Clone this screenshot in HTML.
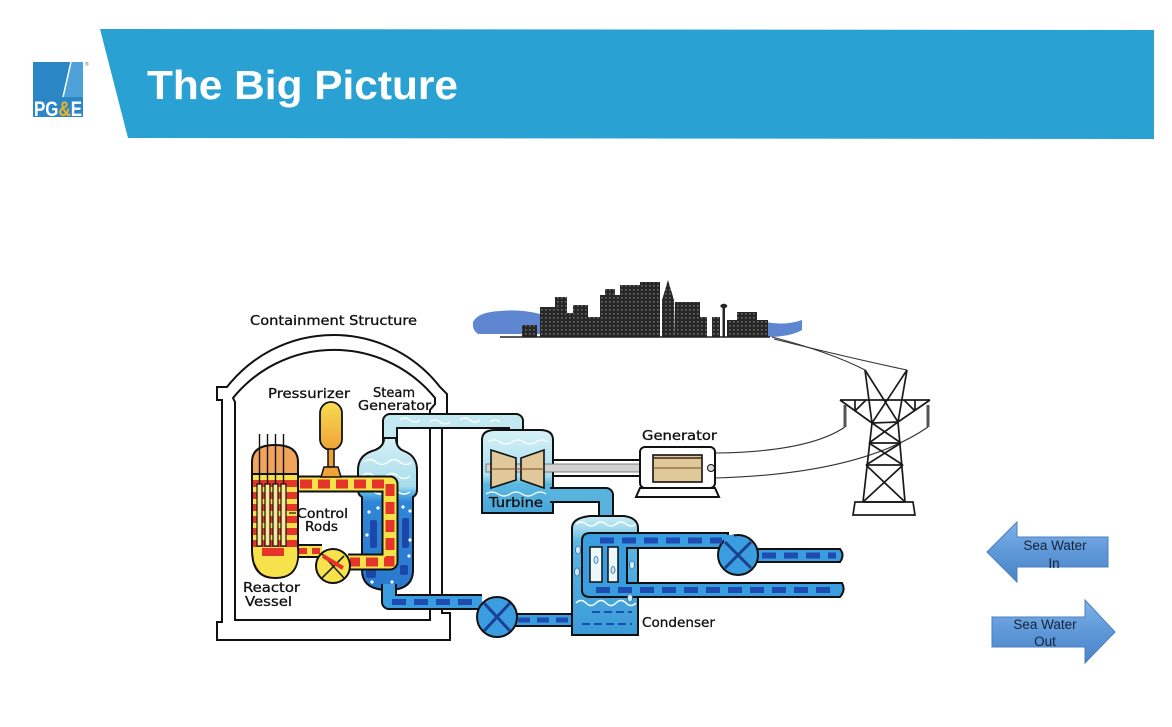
<!DOCTYPE html>
<html><head><meta charset="utf-8">
<style>
html,body{margin:0;padding:0;background:#fff;}
body{width:1172px;height:727px;overflow:hidden;position:relative;}
svg{position:absolute;left:0;top:0;}
.lbl{font-family:"DejaVu Sans","Liberation Sans",sans-serif;font-size:13px;fill:#111;stroke:#111;stroke-width:0.3;}
.sw{font-family:"Liberation Sans",sans-serif;font-size:13.5px;fill:#15233a;}
</style></head>
<body>
<svg width="1172" height="727" viewBox="0 0 1172 727" xmlns="http://www.w3.org/2000/svg">
<defs>
<pattern id="win" width="4" height="4" patternUnits="userSpaceOnUse">
<rect width="4" height="4" fill="#262626"/><rect x="1" y="1" width="1.6" height="1.6" fill="#6a6a6a"/>
</pattern>
<pattern id="core" width="10" height="12" patternUnits="userSpaceOnUse">
<rect width="10" height="12" fill="#f6e24a"/><rect x="0" y="0" width="10" height="7" fill="#e5352b"/>
</pattern>
<linearGradient id="sgfill" x1="0" y1="438" x2="0" y2="590" gradientUnits="userSpaceOnUse">
<stop offset="0" stop-color="#d6f1f6"/><stop offset="0.32" stop-color="#a6dcec"/>
<stop offset="0.36" stop-color="#5ab8e6"/><stop offset="0.42" stop-color="#2f86d6"/><stop offset="1" stop-color="#2a78cf"/>
</linearGradient>
<linearGradient id="turb" x1="0" y1="430" x2="0" y2="513" gradientUnits="userSpaceOnUse">
<stop offset="0" stop-color="#d6f1f6"/><stop offset="0.55" stop-color="#a9dff0"/>
<stop offset="0.65" stop-color="#5bb8e0"/><stop offset="1" stop-color="#48a6da"/>
</linearGradient>
<linearGradient id="cond" x1="0" y1="515" x2="0" y2="635" gradientUnits="userSpaceOnUse">
<stop offset="0" stop-color="#cdeef6"/><stop offset="0.12" stop-color="#9fd8ee"/>
<stop offset="0.22" stop-color="#5cb8e2"/><stop offset="1" stop-color="#3a9ad8"/>
</linearGradient>
<linearGradient id="prz" x1="0" y1="402" x2="0" y2="450" gradientUnits="userSpaceOnUse">
<stop offset="0" stop-color="#f8dc50"/><stop offset="1" stop-color="#eea238"/>
</linearGradient>
<linearGradient id="arr" x1="0" y1="0" x2="0" y2="1">
<stop offset="0" stop-color="#7eb3ea"/><stop offset="0.5" stop-color="#5f98d8"/><stop offset="1" stop-color="#4a84c8"/>
</linearGradient>
</defs>

<!-- Banner -->
<polygon points="100,29 1154,30 1154,139 128,138" fill="#29a2d3"/>
<text x="147" y="99" font-family="Liberation Sans, Arial, sans-serif" font-weight="bold" font-size="41" fill="#fff" textLength="311" lengthAdjust="spacingAndGlyphs">The Big Picture</text>

<!-- Logo -->
<rect x="33" y="62" width="50" height="55" fill="#2b86c6"/>
<polygon points="71,62 83,62 83,97 63,97" fill="#4ea2d8"/>
<line x1="71" y1="62" x2="63" y2="97" stroke="#fff" stroke-width="1.5"/>
<text x="34" y="116" font-family="Liberation Sans Narrow, Liberation Sans, sans-serif" font-weight="bold" font-size="21" fill="#fff" textLength="48" lengthAdjust="spacingAndGlyphs">PG<tspan fill="#f2b320">&amp;</tspan>E</text>
<text x="85" y="66" font-family="Liberation Sans, sans-serif" font-size="5" fill="#666">®</text>

<!-- Containment -->
<path d="M217,640 L450,640 L450,613 L442,613 L442,420 L447,420 L447,394 L440,387 A135,135 0 0 0 227,387 L217,387 L217,400 L222,400 L222,622 L217,622 Z" fill="none" stroke="#111" stroke-width="2"/>
<path d="M235,620 L430,620 L430,410 L435,404 L435,398 A130,130 0 0 0 233,398 L235,402 Z" fill="none" stroke="#111" stroke-width="2"/>

<!-- City skyline -->
<path d="M473,322 Q478,312 500,311 Q520,309 540,314 L545,334 L478,334 Q472,330 473,322 Z" fill="#5f86d0"/>
<path d="M766,322 Q785,326 802,320 L802,330 Q790,337 766,337 Z" fill="#5f86d0"/>
<g fill="url(#win)">
<rect x="522" y="325" width="15" height="12"/>
<rect x="540" y="307" width="15" height="30"/>
<rect x="555" y="297" width="12" height="40"/>
<rect x="567" y="313" width="6" height="24"/>
<rect x="573" y="305" width="15" height="32"/>
<rect x="588" y="317" width="12" height="20"/>
<rect x="600" y="295" width="20" height="42"/>
<rect x="605" y="289" width="10" height="8"/>
<rect x="620" y="285" width="20" height="52"/>
<rect x="640" y="282" width="20" height="55"/>
<polygon points="662,337 662,300 668,280 674,300 675,337"/>
<rect x="675" y="302" width="25" height="35"/>
<rect x="700" y="317" width="7" height="20"/>
<rect x="712" y="317" width="8" height="20"/>
<rect x="727" y="320" width="10" height="17"/>
<rect x="737" y="312" width="20" height="25"/>
<rect x="757" y="320" width="11" height="17"/>
</g>
<rect x="722.5" y="306" width="2.5" height="31" fill="#262626"/>
<ellipse cx="723.8" cy="306" rx="3.5" ry="2.2" fill="#262626"/>
<line x1="500" y1="337" x2="770" y2="337" stroke="#222" stroke-width="1.5"/>

<!-- Wires -->
<g fill="none" stroke="#333" stroke-width="1.1">
<path d="M772,337 Q830,352 865,370"/>
<path d="M774,339 Q850,358 907,370"/>
<path d="M715,453 Q808,452 845,427"/>
<path d="M715,478 Q860,474 928,427"/>
</g>

<!-- Tower -->
<g fill="none" stroke="#1a1a1a" stroke-width="1.7">
<path d="M840,400 L930,400 M840,400 L872,423 M930,400 L898,422"/>
<path d="M855,400 L855,411 M915,400 L915,411 M855,411 L866,400 M915,411 L904,400"/>
<path d="M865,370 L872,423 L863,502 M907,370 L898,422 L905,502"/>
<path d="M865,370 L898,422 M907,370 L872,423"/>
<path d="M872,423 L898,422 M869,443 L901,443 M866,465 L903,465 M863,502 L905,502"/>
<path d="M872,423 L901,443 M898,422 L869,443 M869,443 L903,465 M901,443 L866,465 M866,465 L905,502 M903,465 L863,502"/>
<path d="M853,515 L855,502 L913,502 L915,515 Z"/>
</g>
<line x1="845" y1="405" x2="845" y2="427" stroke="#555" stroke-width="3"/>
<line x1="928" y1="405" x2="928" y2="427" stroke="#555" stroke-width="3"/>

<!-- Steam line -->
<path d="M390,446 L390,421 L516,421 L516,436" fill="none" stroke="#111" stroke-width="16" stroke-linejoin="round"/>
<path d="M390,446 L390,421 L516,421 L516,436" fill="none" stroke="#c2e9f1" stroke-width="12" stroke-linejoin="round"/>
<path d="M400,420 q5,-4 10,0 t10,0 M430,422 q5,-4 10,0 t10,0 M460,420 q5,-4 10,0 t10,0 M490,422 q5,-4 10,0" fill="none" stroke="#fff" stroke-width="1.3"/>

<!-- Steam generator -->
<path d="M384,438 Q384,448 372,451 Q358,456 358,470 L358,490 Q358,495 362,497 L362,570 Q362,590 388,590 Q413,590 413,570 L413,497 Q417,495 417,490 L417,470 Q417,456 404,451 Q396,448 396,438 Z" fill="url(#sgfill)" stroke="#111" stroke-width="2"/>
<path d="M364,462 q6,-5 12,0 t12,0 t12,0 t12,0 M362,476 q6,-5 12,0 t12,0 t12,0 t12,0 M362,492 q6,-4 12,0 t12,0 t12,0 t12,0" fill="none" stroke="#fff" stroke-width="1.4"/>
<g fill="#1c46a8">
<rect x="370" y="520" width="7" height="28" rx="2"/>
<rect x="402" y="518" width="7" height="30" rx="2"/>
<rect x="366" y="570" width="10" height="8" rx="2"/>
<rect x="400" y="565" width="8" height="10" rx="2"/>
</g>
<g fill="#fff">
<circle cx="369" cy="512" r="1.6"/><circle cx="378" cy="508" r="1.6"/><circle cx="403" cy="507" r="1.6"/><circle cx="410" cy="511" r="1.6"/>
<circle cx="367" cy="535" r="1.6"/><circle cx="410" cy="540" r="1.6"/><circle cx="368" cy="556" r="1.6"/><circle cx="409" cy="556" r="1.6"/>
<circle cx="372" cy="582" r="1.6"/><circle cx="392" cy="582" r="1.6"/>
</g>

<!-- Feedwater pipe -->
<path d="M389,584 L389,602 L482,602" fill="none" stroke="#111" stroke-width="16" stroke-linejoin="round"/>
<path d="M389,584 L389,602 L482,602" fill="none" stroke="#3a9de0" stroke-width="12" stroke-linejoin="round"/>
<path d="M392,602 L478,602" fill="none" stroke="#1f4cb0" stroke-width="6" stroke-dasharray="14 8"/>
<path d="M512,620 L576,620" fill="none" stroke="#111" stroke-width="14"/>
<path d="M512,620 L576,620" fill="none" stroke="#3a9de0" stroke-width="10"/>
<path d="M518,620 L574,620" fill="none" stroke="#1f4cb0" stroke-width="5" stroke-dasharray="12 7"/>
<circle cx="497" cy="617" r="20" fill="#3a9de0" stroke="#111" stroke-width="2"/>
<path d="M484,603 L510,631 M510,603 L484,631" stroke="#1c3f8f" stroke-width="3"/>

<!-- Primary loop -->
<path d="M296,484 L390,484 L390,562 L348,562" fill="none" stroke="#111" stroke-width="17" stroke-linejoin="round"/>
<path d="M296,484 L390,484 L390,562 L348,562" fill="none" stroke="#f6e24a" stroke-width="13" stroke-linejoin="round"/>
<path d="M300,484 L390,484 L390,562 L350,562" fill="none" stroke="#e5352b" stroke-width="9" stroke-dasharray="12 6"/>
<path d="M296,551 L322,551" fill="none" stroke="#111" stroke-width="14"/>
<path d="M296,551 L322,551" fill="none" stroke="#f6e24a" stroke-width="10"/>
<path d="M298,551 L320,551" fill="none" stroke="#e5352b" stroke-width="6" stroke-dasharray="9 5"/>

<!-- Reactor pump -->
<circle cx="333" cy="566" r="17" fill="#f6e24a" stroke="#111" stroke-width="2"/>
<path d="M322,554 L344,578 M344,556 L322,578" stroke="#222" stroke-width="1.6"/>
<path d="M323,556 L343,568" stroke="#e5352b" stroke-width="4"/>

<!-- Pressurizer -->
<rect x="320" y="402" width="22" height="48" rx="11" fill="url(#prz)" stroke="#111" stroke-width="1.8"/>
<rect x="328" y="449" width="6" height="18" fill="#eea238" stroke="#111" stroke-width="1.5"/>
<path d="M321,477 L324,467 L338,467 L341,477 Z" fill="#eea238" stroke="#111" stroke-width="1.5"/>

<!-- Reactor vessel -->
<path d="M252,474 L298,474 L298,550 Q300,578 275,578 Q252,578 252,550 Z" fill="url(#core)" stroke="#111" stroke-width="2"/>
<path d="M253,548 L297,548 Q300,577 275,577 Q253,577 253,548 Z" fill="#f6e24a"/>
<rect x="262" y="548" width="22" height="8" fill="#e5352b"/>
<path d="M252,474 L252,462 Q252,445 275,445 Q298,445 298,462 L298,474 Z" fill="#f0a45c" stroke="#111" stroke-width="2"/>
<g stroke="#111" stroke-width="1.4">
<line x1="259.5" y1="434" x2="259.5" y2="484"/><line x1="267.5" y1="434" x2="267.5" y2="484"/>
<line x1="275.5" y1="434" x2="275.5" y2="484"/><line x1="283.5" y1="434" x2="283.5" y2="484"/>
</g>
<g fill="#f8e79a" stroke="#111" stroke-width="1.2">
<rect x="257" y="484" width="5" height="62"/><rect x="265" y="484" width="5" height="62"/>
<rect x="273" y="484" width="5" height="62"/><rect x="281" y="484" width="5" height="62"/>
</g>
<line x1="289" y1="513" x2="296" y2="513" stroke="#111" stroke-width="1.2"/>

<!-- Turbine -->
<path d="M482,440 Q482,430 495,430 L540,430 Q553,430 553,440 L553,513 L482,513 Z" fill="url(#turb)" stroke="#111" stroke-width="2"/>
<path d="M488,442 q6,-4 12,0 t12,0 t12,0 t12,0 t12,0 M486,494 q6,-4 12,0 t12,0 t12,0 t12,0 t12,0" fill="none" stroke="#fff" stroke-width="1.3"/>
<!-- exhaust -->
<path d="M550,495 L606,495 L606,522" fill="none" stroke="#111" stroke-width="16" stroke-linejoin="round"/>
<path d="M550,495 L606,495 L606,522" fill="none" stroke="#58b3df" stroke-width="12" stroke-linejoin="round"/>
<!-- shaft housing -->
<rect x="553" y="460" width="88" height="16" fill="#fff" stroke="#111" stroke-width="2"/>
<rect x="486" y="464" width="226" height="8" fill="#d2d2d2" stroke="#666" stroke-width="0.8"/>
<polygon points="491,450 516,458 516,480 491,488" fill="#e0c89a" stroke="#111" stroke-width="1.6"/>
<polygon points="521,458 544,450 544,488 521,480" fill="#e0c89a" stroke="#111" stroke-width="1.6"/>
<line x1="491" y1="469" x2="544" y2="469" stroke="#7a4a2a" stroke-width="1"/>

<!-- Generator -->
<rect x="640" y="447" width="75" height="41" rx="5" fill="#fff" stroke="#111" stroke-width="2"/>
<path d="M636,497 L640,488 L715,488 L719,497 Z" fill="#fff" stroke="#111" stroke-width="2"/>
<rect x="653" y="455" width="49" height="27" fill="#e0c89a" stroke="#111" stroke-width="1.6"/>
<line x1="653" y1="468" x2="702" y2="468" stroke="#7a4a2a" stroke-width="1"/>
<line x1="653" y1="458" x2="702" y2="458" stroke="#3a2a1a" stroke-width="1.5"/>
<circle cx="711" cy="468" r="3.5" fill="#ddd" stroke="#111" stroke-width="1"/>

<!-- Condenser -->
<path d="M572,635 L572,528 Q572,518 590,516 L624,516 Q638,518 638,528 L638,635 Z" fill="url(#cond)" stroke="#111" stroke-width="2"/>
<path d="M576,524 q5,-4 10,0 t10,0 t10,0 t10,0 t10,0 t10,0 M576,603 q5,-5 10,0 t10,0 t10,0 t10,0 t10,0 t10,0" fill="none" stroke="#fff" stroke-width="1.4"/>
<path d="M592,612 L632,612 M582,624 L632,624" stroke="#1f4cb0" stroke-width="2" stroke-dasharray="8 4"/>

<!-- Cooling water loop -->
<path d="M842,583 L627,583 L627,548 L728,548 L728,533 L590,533 Q582,533 582,541 L582,590 Q582,597 590,597 L840,597 Q846,590 842,583 Z" fill="#3a9de0" stroke="#111" stroke-width="2"/>
<path d="M752,549 L840,549 Q845,555 840,562 L752,562 Z" fill="#3a9de0" stroke="#111" stroke-width="2"/>
<circle cx="738" cy="555" r="20" fill="#3a9de0" stroke="#111" stroke-width="2"/>
<rect x="724" y="535" width="10" height="12" fill="#3a9de0"/>
<path d="M725,542 L751,568 M751,542 L725,568" stroke="#1c3f8f" stroke-width="3"/>
<g stroke="#1f4cb0" stroke-width="6" fill="none">
<path d="M600,540.5 L722,540.5" stroke-dasharray="14 8"/>
<path d="M596,590 L836,590" stroke-dasharray="14 8"/>
<path d="M762,555.5 L836,555.5" stroke-dasharray="14 8"/>
</g>
<rect x="590" y="547" width="12" height="35" fill="#eaf7fb" stroke="#111" stroke-width="1.5"/>
<rect x="608" y="547" width="10" height="35" fill="#eaf7fb" stroke="#111" stroke-width="1.5"/>
<g fill="#cfeaf6" stroke="#2a6fb0" stroke-width="0.8">
<ellipse cx="578" cy="550" rx="2.5" ry="4"/><ellipse cx="577" cy="572" rx="2.5" ry="4"/>
<ellipse cx="596" cy="560" rx="2" ry="3.5"/><ellipse cx="613" cy="570" rx="2" ry="3.5"/>
<ellipse cx="632" cy="565" rx="2.5" ry="4"/><ellipse cx="630" cy="598" rx="2.5" ry="4"/>
</g>

<!-- Labels -->
<text class="lbl" x="250" y="325" font-size="14" textLength="167" lengthAdjust="spacingAndGlyphs">Containment Structure</text>
<text class="lbl" x="268" y="398" textLength="82" lengthAdjust="spacingAndGlyphs">Pressurizer</text>
<text class="lbl" x="373" y="397" textLength="42" lengthAdjust="spacingAndGlyphs">Steam</text>
<text class="lbl" x="358" y="410" textLength="73" lengthAdjust="spacingAndGlyphs">Generator</text>
<text class="lbl" x="297" y="518" textLength="51" lengthAdjust="spacingAndGlyphs">Control</text>
<text class="lbl" x="305" y="531" textLength="33" lengthAdjust="spacingAndGlyphs">Rods</text>
<text class="lbl" x="243" y="592" textLength="57" lengthAdjust="spacingAndGlyphs">Reactor</text>
<text class="lbl" x="245" y="606" textLength="47" lengthAdjust="spacingAndGlyphs">Vessel</text>
<text class="lbl" x="642" y="440" textLength="75" lengthAdjust="spacingAndGlyphs">Generator</text>
<text class="lbl" x="489" y="507" textLength="54" lengthAdjust="spacingAndGlyphs">Turbine</text>
<text class="lbl" x="642" y="627" textLength="73" lengthAdjust="spacingAndGlyphs">Condenser</text>

<!-- Sea water arrows -->
<polygon points="987,552 1017,522 1017,537 1108,537 1108,567 1017,567 1017,582" fill="url(#arr)" stroke="#4a7fc0" stroke-width="1"/>
<text class="sw" x="1055" y="550" text-anchor="middle">Sea Water</text>
<text class="sw" x="1054" y="568" text-anchor="middle">In</text>
<polygon points="992,617 1085,617 1085,600 1115,632 1085,663 1085,647 992,647" fill="url(#arr)" stroke="#4a7fc0" stroke-width="1"/>
<text class="sw" x="1045" y="629" text-anchor="middle">Sea Water</text>
<text class="sw" x="1045" y="646" text-anchor="middle">Out</text>
</svg>
</body></html>
